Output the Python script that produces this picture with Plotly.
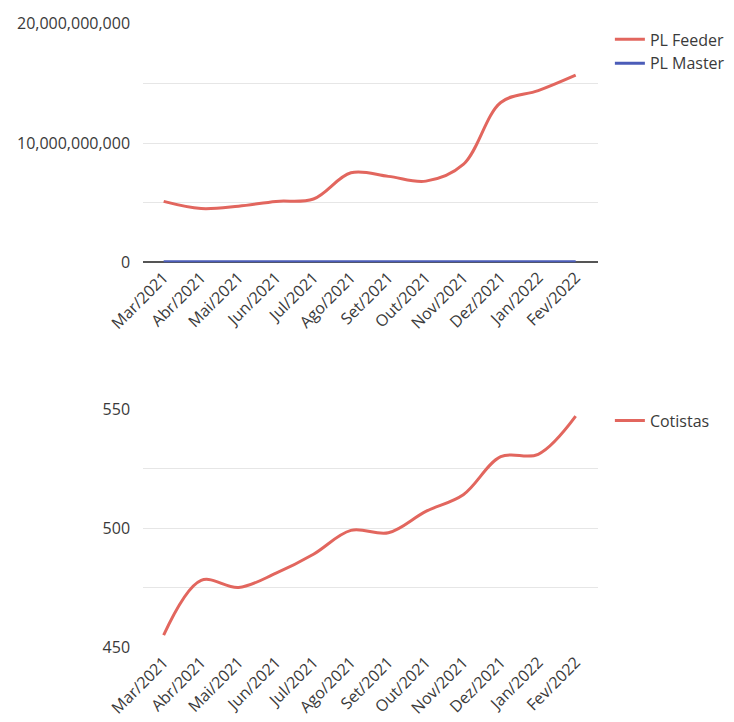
import plotly.graph_objects as go

months = ["Mar/2021", "Abr/2021", "Mai/2021", "Jun/2021", "Jul/2021", "Ago/2021",
          "Set/2021", "Out/2021", "Nov/2021", "Dez/2021", "Jan/2022", "Fev/2022"]
pl_feeder = [5.1e9, 4.5e9, 4.7e9, 5.1e9, 5.3e9, 7.5e9, 7.2e9, 6.8e9, 8.2e9, 13.4e9, 14.4e9, 15.7e9]
pl_master = [3e7, 3e7, 3e7, 3e7, 3e7, 3e7, 3e7, 3e7, 3e7, 3e7, 3e7, 3e7]
cotistas = [455, 478, 475, 481, 489, 499, 498, 507, 514, 530, 531, 547]

top_ticks = [0, 5e9, 10e9, 15e9, 20e9]
top_text = ["0", "", "10,000,000,000", "", "20,000,000,000"]
bot_ticks = [450, 475, 500, 525, 550]
bot_text = ["450", "", "500", "", "550"]

RED = "#e2665e"
BLUE = "#4b5cb8"
FONT = "Open Sans"
TXT = "#3a3a3a"

fig = go.Figure()
fig.add_trace(go.Scatter(x=months, y=pl_feeder, name="PL Feeder", mode="lines",
                         line=dict(color=RED, width=3, shape="spline"),
                         xaxis="x", yaxis="y", legend="legend"))
fig.add_trace(go.Scatter(x=months, y=pl_master, name="PL Master", mode="lines",
                         line=dict(color=BLUE, width=3, shape="spline"),
                         xaxis="x", yaxis="y", legend="legend"))
fig.add_trace(go.Scatter(x=months, y=cotistas, name="Cotistas", mode="lines",
                         line=dict(color=RED, width=3, shape="spline"),
                         xaxis="x2", yaxis="y2", legend="legend2"))

xcommon = dict(type="category", range=[-0.55, 11.6], tickangle=-45, automargin=False,
               showgrid=False, ticks="", ticklabelstandoff=2,
               tickfont=dict(size=16, color=TXT, family=FONT))
ycommon = dict(automargin=False, showgrid=True, gridcolor="#e6e6e6", gridwidth=1, ticks="",
               ticklabelstandoff=12, tickfont=dict(size=16, color=TXT, family=FONT))
XD = [0.184, 0.804]
fig.update_layout(
    width=734, height=722,
    margin=dict(l=0, r=0, t=0, b=0, autoexpand=False),
    paper_bgcolor="white", plot_bgcolor="white",
    font=dict(family=FONT, color=TXT),
    xaxis=dict(domain=XD, anchor="y", **xcommon),
    yaxis=dict(domain=[0.648, 0.978], range=[0, 20e9], tickvals=top_ticks, ticktext=top_text,
               zeroline=True, zerolinecolor="#555", zerolinewidth=1.5, **ycommon),
    xaxis2=dict(domain=XD, anchor="y2", **xcommon),
    yaxis2=dict(domain=[0.115, 0.4445], range=[450, 550], tickvals=bot_ticks, ticktext=bot_text,
                zeroline=False, **ycommon),
    legend=dict(x=0.82, y=0.98, xanchor="left", yanchor="top",
                font=dict(size=16, color=TXT, family=FONT), bgcolor="rgba(0,0,0,0)",
                tracegroupgap=2, itemwidth=30),
    legend2=dict(x=0.82, y=0.452, xanchor="left", yanchor="top",
                 font=dict(size=16, color=TXT, family=FONT), bgcolor="rgba(0,0,0,0)",
                 itemwidth=30),
    showlegend=True,
)

fig.write_html("out.html")
